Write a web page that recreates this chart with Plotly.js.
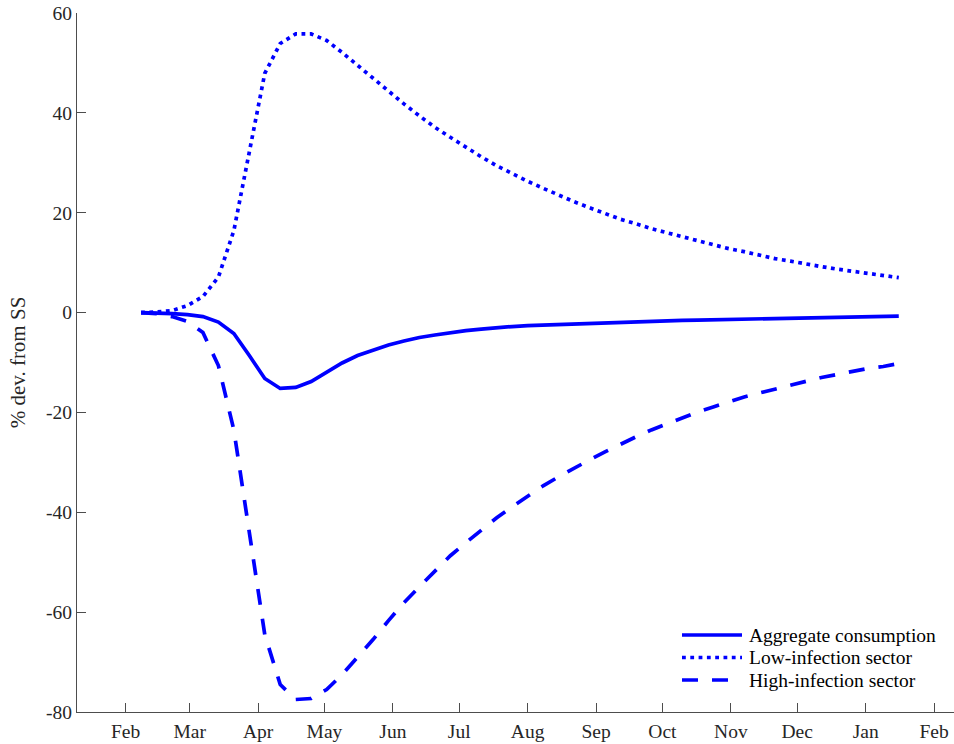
<!DOCTYPE html>
<html>
<head>
<meta charset="utf-8">
<script src="https://cdn.plot.ly/plotly-3.0.1.min.js"></script>
<style>
  html, body { margin: 0; padding: 0; background: #fff; }
  #chart { width: 954px; height: 744px; }
</style>
</head>
<body>
<div id="chart"></div>
<script>
// Weekly simulation path, first week and number of weeks
const firstWeek = '2020-02-08';
const nWeeks = 50;

// Aggregate consumption, % deviation from steady state
const aggregate = [
  0, -0.05, -0.2, -0.4, -0.8, -1.9, -4.2, -8.6, -13.2, -15.2,
  -15.0, -13.8, -12.0, -10.1, -8.6, -7.5, -6.5, -5.7, -5.0, -4.5,
  -4.0, -3.6, -3.3, -3.0, -2.8, -2.6, -2.48, -2.36, -2.25, -2.15,
  -2.05, -1.95, -1.85, -1.76, -1.67, -1.58, -1.5, -1.43, -1.36, -1.29,
  -1.22, -1.15, -1.09, -1.03, -0.97, -0.91, -0.86, -0.8, -0.75, -0.7
];

// Low-infection sector
const lowInfection = [
  0, 0.1, 0.4, 1.4, 3.2, 7.1, 16.4, 32.6, 47.9, 53.9,
  55.8, 55.8, 54.5, 52.1, 49.5, 46.9, 44.3, 41.8, 39.4, 37.1,
  35.1, 33.1, 31.2, 29.4, 27.8, 26.3, 24.9, 23.5, 22.2, 21.0,
  19.9, 18.7, 17.8, 16.8, 16.0, 15.2, 14.4, 13.6, 12.8, 12.2,
  11.5, 10.8, 10.3, 9.7, 9.2, 8.7, 8.3, 7.8, 7.4, 7.0
];

// High-infection sector
const highInfection = [
  0, -0.2, -0.8, -1.8, -4.0, -10.6, -23.5, -44.1, -64.5, -74.5,
  -77.5, -77.3, -75.5, -72.5, -69.1, -65.5, -61.7, -58.1, -54.9, -51.7,
  -48.7, -46.1, -43.5, -41.1, -38.9, -36.7, -34.7, -32.9, -31.1, -29.5,
  -27.9, -26.3, -24.9, -23.5, -22.3, -21.1, -19.9, -18.9, -17.9, -16.9,
  -16.1, -15.3, -14.5, -13.7, -13.0, -12.4, -11.8, -11.2, -10.8, -10.2
];

const seriesNames = ['Aggregate consumption', 'Low-infection sector', 'High-infection sector'];

// Month ticks
const monthTicks = [
  '2020-02-01', '2020-03-01', '2020-04-01', '2020-05-01', '2020-06-01', '2020-07-01',
  '2020-08-01', '2020-09-01', '2020-10-01', '2020-11-01', '2020-12-01', '2021-01-01', '2021-02-01'
];
const monthLabels = ['Feb', 'Mar', 'Apr', 'May', 'Jun', 'Jul', 'Aug', 'Sep', 'Oct', 'Nov', 'Dec', 'Jan', 'Feb'];

const yTicks = [-80, -60, -40, -20, 0, 20, 40, 60];
const yLabels = ['-80', '-60', '-40', '-20', '0', '20', '40', '60'];

// Build the weekly date axis
const dates = [];
const d0 = new Date(firstWeek + 'T00:00:00Z');
for (let k = 0; k < nWeeks; k++) {
  const d = new Date(d0.getTime() + k * 7 * 86400000);
  dates.push(d.toISOString().slice(0, 10));
}

const BLUE = '#0000ff';
const LW = 3.7;
const styles = [
  { width: LW, dash: 'solid' },
  { width: LW, dash: '3.8px,4.5px' },
  { width: LW, dash: '16px,14px' }
];
const series = [aggregate, lowInfection, highInfection];

const traces = series.map((ys, i) => ({
  x: dates,
  y: ys,
  type: 'scatter',
  mode: 'lines',
  name: seriesNames[i],
  line: { color: BLUE, width: styles[i].width, dash: styles[i].dash },
  showlegend: false,
  hoverinfo: 'x+y'
}));

const FONT = 'Liberation Serif, DejaVu Serif, serif';
const FS = 19.5;
const W = 954, H = 744;
const M = { l: 77, r: 0, t: 13, b: 32 };
const plotW = W - M.l - M.r, plotH = H - M.t - M.b;
const px = X => (X - M.l) / plotW;
const py = Y => (H - M.b - Y) / plotH;

// Legend drawn as sample lines plus labels in the lower right corner
const legendRows = [635, 657.5, 680];
const shapes = [];
const annotations = [];
legendRows.forEach((rowY, i) => {
  shapes.push({
    type: 'line', xref: 'paper', yref: 'paper',
    x0: px(682), x1: px(742), y0: py(rowY), y1: py(rowY),
    line: { color: BLUE, width: styles[i].width, dash: styles[i].dash }
  });
  annotations.push({
    xref: 'paper', yref: 'paper', x: px(747), y: py(rowY),
    xanchor: 'left', yanchor: 'middle', showarrow: false,
    text: seriesNames[i], font: { family: FONT, size: FS, color: '#000' }
  });
});

const axisColor = '#4d4d4d';
const layout = {
  width: W, height: H,
  margin: M,
  paper_bgcolor: '#fff', plot_bgcolor: '#fff',
  font: { family: FONT, size: FS, color: '#262626' },
  showlegend: false,
  xaxis: {
    type: 'date',
    range: ['2020-01-10', '2021-02-10'],
    tickvals: monthTicks, ticktext: monthLabels,
    ticks: 'inside', ticklen: 9, tickwidth: 1, tickcolor: axisColor,
    ticklabelstandoff: 2,
    showline: true, linecolor: axisColor, linewidth: 1,
    showgrid: false, zeroline: false,
    tickfont: { family: FONT, size: FS, color: '#262626' }
  },
  yaxis: {
    range: [-80, 60],
    tickvals: yTicks, ticktext: yLabels,
    ticks: 'inside', ticklen: 9, tickwidth: 1, tickcolor: axisColor,
    showline: true, linecolor: axisColor, linewidth: 1,
    showgrid: false, zeroline: false,
    tickfont: { family: FONT, size: FS, color: '#262626' },
    title: { text: '% dev. from SS', font: { family: FONT, size: 21, color: '#262626' }, standoff: 14 }
  },
  shapes: shapes,
  annotations: annotations
};

Plotly.newPlot('chart', traces, layout, { staticPlot: true, displayModeBar: false });
</script>
</body>
</html>
